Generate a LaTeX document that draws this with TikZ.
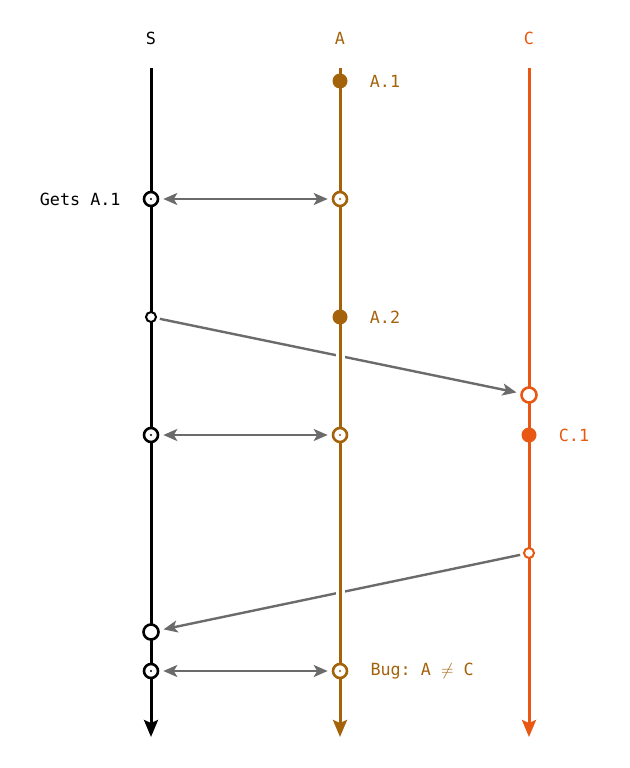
\documentclass[tikz,border=0pt]{standalone}
\usepackage{fontspec}
\setmonofont{DejaVu Sans Mono}
\usetikzlibrary{arrows.meta, positioning}
\pgfdeclarelayer{background}
\pgfsetlayers{background,main}

\definecolor{colA}{RGB}{164,98,10}
\definecolor{colC}{RGB}{232,88,18}
\definecolor{msg}{RGB}{107,107,107}

\begin{document}
\begin{tikzpicture}[
    x=1bp, y=-1bp,
    font=\ttfamily\fontsize{16.8}{20}\selectfont,
    node distance=22bp,
    lbl/.style={inner sep=0, text=#1},
    event/.style={circle, fill=#1, inner sep=0, minimum size=15bp},
    sync/.style={circle, draw=#1, fill=white, line width=2.6bp, inner sep=0, minimum size=14bp,
        path picture={\fill[#1] (path picture bounding box.center) circle (1.2bp);}},
    send/.style={circle, draw=#1, fill=white, line width=2bp, inner sep=0, minimum size=10bp},
    recv/.style={circle, draw=#1, fill=white, line width=2.6bp, inner sep=0, minimum size=15bp},
    life/.style={draw=#1, line width=3bp, -{Stealth[length=17bp, width=14bp, inset=3bp]}},
    arrow/.style={msg, line width=2.4bp, -{Stealth[length=14bp, width=12bp, inset=3.5bp]}, shorten >=4bp},
    both/.style={arrow, {Stealth[length=14bp, width=12bp, inset=3.5bp]}-{Stealth[length=14bp, width=12bp, inset=3.5bp]}, shorten <=4bp}
]
    \useasboundingbox (0,0) rectangle (630,768);

    \node (S) at (151,38) {S};
    \node[lbl=colA] (A) at (340,38) {A};
    \node[lbl=colC] (C) at (529,38) {C};

    \node[event=colA] (a1) at (340,81) {};
    \node[lbl=colA, right=of a1] {A.1};

    \node[sync=black] (s1) at (151,199) {};
    \node[sync=colA] (a2) at (340,199) {};
    \node[lbl=black, left=of s1] {Gets A.1};

    \node[send=black] (s2) at (151,317) {};
    \node[event=colA] (a3) at (340,317) {};
    \node[lbl=colA, right=of a3] {A.2};
    \node[recv=colC] (c1) at (529,395) {};

    \node[sync=black] (s3) at (151,435) {};
    \node[sync=colA] (a4) at (340,435) {};
    \node[event=colC] (c2) at (529,435) {};
    \node[lbl=colC, right=of c2] {C.1};

    \node[send=colC] (c3) at (529,553) {};
    \node[recv=black] (s4) at (151,632) {};

    \node[sync=black] (s5) at (151,671) {};
    \node[sync=colA] (a5) at (340,671) {};
    \node[lbl=colA, right=of a5] {Bug: A $\neq$ C};

    \coordinate (Stop) at (151,68);  \coordinate (Send) at (151,737);
    \coordinate (Atop) at (340,68);  \coordinate (Aend) at (340,737);
    \coordinate (Ctop) at (529,68);  \coordinate (Cend) at (529,737);

    \begin{pgfonlayer}{background}
        \draw[arrow, shorten <=3bp] (s2) -- (c1);
        \draw[arrow, shorten <=3bp] (c3) -- (s4);
        \draw[both] (s1) -- (a2);
        \draw[both] (s3) -- (a4);
        \draw[both] (s5) -- (a5);

        \draw[life=black] (Stop) -- (Send);
        \draw[white, line width=9bp] (Atop) -- (340,720);
        \draw[life=colA] (Atop) -- (Aend);
        \draw[life=colC] (Ctop) -- (Cend);
    \end{pgfonlayer}
\end{tikzpicture}
\end{document}
